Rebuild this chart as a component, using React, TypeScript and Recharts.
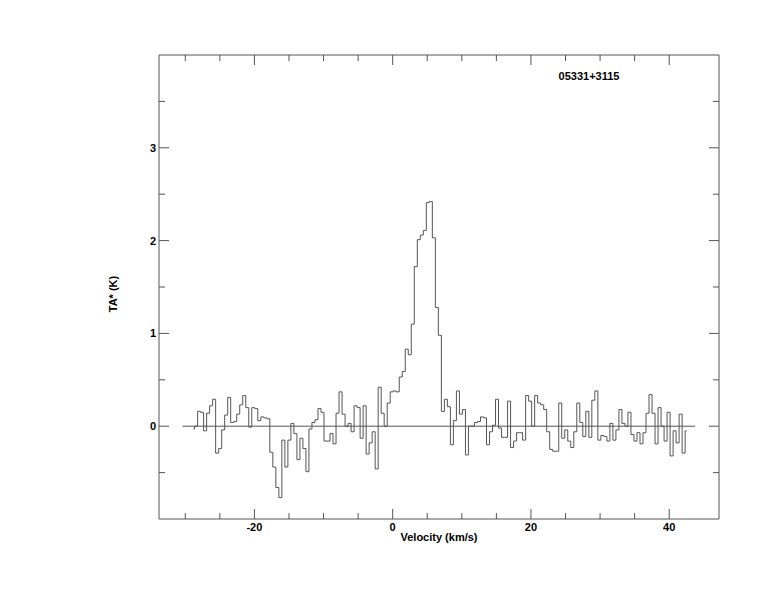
import React from 'react'
import { LineChart, Line, XAxis, YAxis } from 'recharts'

// spectrum channels: centre velocity of first channel and channel width (km/s)
const V_START = -28.87
const V_STEP = 0.4353

// antenna temperature per channel (K)
const TA = [
  -0.03, 0.0, 0.16, 0.15, -0.05, 0.14, 0.22, 0.29, -0.29, -0.24,
  -0.04, 0.12, 0.31, 0.04, 0.05, 0.13, 0.23, 0.33, 0.2, -0.01,
  0.2, 0.19, 0.06, 0.1, 0.09, 0.08, -0.28, -0.44, -0.66, -0.77,
  -0.15, -0.44, -0.15, 0.03, -0.08, -0.36, -0.13, -0.24, -0.49, -0.03,
  0.04, 0.07, 0.19, 0.15, -0.16, -0.16, -0.08, -0.19, 0.14, 0.37,
  0.13, 0.0, 0.03, -0.06, 0.22, 0.2, -0.13, 0.22, -0.3, -0.18,
  -0.06, -0.46, 0.42, 0.14, 0.0, 0.25, 0.37, 0.38, 0.37, 0.53,
  0.59, 0.83, 0.77, 1.1, 1.72, 2.01, 2.06, 2.11, 2.41, 2.42,
  2.03, 1.28, 0.98, 0.16, 0.29, 0.21, -0.2, 0.06, 0.38, 0.13,
  0.18, -0.31, 0.0, 0.0, 0.04, 0.05, 0.1, 0.09, -0.2, -0.06,
  0.01, 0.29, -0.02, -0.12, -0.12, 0.27, -0.23, -0.16, -0.07, -0.07,
  -0.15, 0.33, 0.27, 0.0, 0.33, 0.25, 0.23, 0.18, -0.06, -0.25,
  -0.27, -0.27, 0.25, -0.13, -0.04, -0.16, -0.23, -0.06, 0.25, 0.04,
  -0.11, 0.16, -0.12, 0.28, 0.38, -0.15, -0.1, -0.11, -0.16, 0.03,
  -0.15, -0.04, 0.18, 0.03, 0.0, 0.15, -0.09, -0.16, -0.07, -0.19,
  -0.07, 0.14, 0.34, 0.14, -0.19, 0.2, 0.0, -0.16, 0.15, -0.32,
  -0.05, -0.18, 0.13, -0.29, -0.05,
]

// zero baseline drawn under the spectrum
const BASE_V = [-30.4, 43.75]
const BASE_T = [0, 0]

const X_TICKS = [-30, -25, -20, -15, -10, -5, 0, 5, 10, 15, 20, 25, 30, 35, 40]
const X_LABELED = [-20, 0, 20, 40]
const Y_TICKS = [-0.5, 0, 0.5, 1, 1.5, 2, 2.5, 3, 3.5]
const Y_LABELED = [0, 1, 2, 3]
const X_DOMAIN = [-33.8, 47.2]
const Y_DOMAIN = [-1, 4]

const TITLE = '05331+3115'
const X_TITLE = 'Velocity (km/s)'
const Y_TITLE = 'TA* (K)'

const INK = '#555555'
const FONT = '"Liberation Sans", Arial, Helvetica, sans-serif'
const MAJOR = 10
const MINOR = 6

const spectrum = TA.map((t, i) => ({ v: V_START + i * V_STEP, t }))
const baseline = BASE_V.map((v, i) => ({ v, t: BASE_T[i] }))

const labelStyle = { fontFamily: FONT, fontSize: 11, fontWeight: 700, fill: '#000' }

const BottomTick = (props: any) => {
  const { x, y, payload } = props
  const major = X_LABELED.includes(payload.value)
  return (
    <g>
      <line x1={x} y1={y} x2={x} y2={y - (major ? MAJOR : MINOR)} stroke={INK} />
      {major && (
        <text x={x} y={y + 12} textAnchor="middle" {...labelStyle}>
          {payload.value}
        </text>
      )}
    </g>
  )
}

const TopTick = (props: any) => {
  const { x, y, payload } = props
  const major = X_LABELED.includes(payload.value)
  return <line x1={x} y1={y} x2={x} y2={y + (major ? MAJOR : MINOR)} stroke={INK} />
}

const LeftTick = (props: any) => {
  const { x, y, payload } = props
  const major = Y_LABELED.includes(payload.value)
  return (
    <g>
      <line x1={x} y1={y} x2={x + (major ? MAJOR : MINOR)} y2={y} stroke={INK} />
      {major && (
        <text x={x - 3} y={y + 4} textAnchor="end" {...labelStyle}>
          {payload.value}
        </text>
      )}
    </g>
  )
}

const RightTick = (props: any) => {
  const { x, y, payload } = props
  const major = Y_LABELED.includes(payload.value)
  return <line x1={x} y1={y} x2={x - (major ? MAJOR : MINOR)} y2={y} stroke={INK} />
}

const textDiv: React.CSSProperties = {
  position: 'absolute',
  fontFamily: FONT,
  fontSize: 11,
  fontWeight: 700,
  color: '#000',
  whiteSpace: 'nowrap',
  transform: 'translate(-50%, -50%)',
}

export default function App() {
  return (
    <div style={{ position: 'relative', width: 766, height: 596, background: '#fff' }}>
      <LineChart width={766} height={596} margin={{ top: 46, right: 54, bottom: 84, left: 150 }}>
        <XAxis
          xAxisId="bottom"
          type="number"
          dataKey="v"
          domain={X_DOMAIN}
          allowDataOverflow
          ticks={X_TICKS}
          interval={0}
          height={1}
          tickSize={0}
          tickMargin={0}
          tickLine={false}
          axisLine={{ stroke: INK }}
          tick={BottomTick}
        />
        <XAxis
          xAxisId="top"
          orientation="top"
          type="number"
          dataKey="v"
          domain={X_DOMAIN}
          allowDataOverflow
          ticks={X_TICKS}
          interval={0}
          height={1}
          tickSize={0}
          tickMargin={0}
          tickLine={false}
          axisLine={{ stroke: INK }}
          tick={TopTick}
        />
        <YAxis
          yAxisId="left"
          type="number"
          domain={Y_DOMAIN}
          allowDataOverflow
          ticks={Y_TICKS}
          interval={0}
          width={1}
          tickSize={0}
          tickMargin={0}
          tickLine={false}
          axisLine={{ stroke: INK }}
          tick={LeftTick}
        />
        <YAxis
          yAxisId="right"
          orientation="right"
          type="number"
          domain={Y_DOMAIN}
          allowDataOverflow
          ticks={Y_TICKS}
          interval={0}
          width={1}
          tickSize={0}
          tickMargin={0}
          tickLine={false}
          axisLine={{ stroke: INK }}
          tick={RightTick}
        />
        <Line
          xAxisId="top"
          yAxisId="right"
          data={baseline}
          dataKey="t"
          type="linear"
          stroke={INK}
          strokeWidth={1}
          dot={false}
          isAnimationActive={false}
        />
        <Line
          xAxisId="bottom"
          yAxisId="left"
          data={spectrum}
          dataKey="t"
          type="step"
          stroke={INK}
          strokeWidth={1}
          dot={false}
          isAnimationActive={false}
        />
      </LineChart>
      <div style={{ ...textDiv, left: 581, top: 68 }}>{TITLE}</div>
      <div style={{ ...textDiv, left: 431, top: 529 }}>{X_TITLE}</div>
      <div style={{ ...textDiv, left: 105, top: 286, transform: 'translate(-50%, -50%) rotate(-90deg)' }}>
        {Y_TITLE}
      </div>
    </div>
  )
}
